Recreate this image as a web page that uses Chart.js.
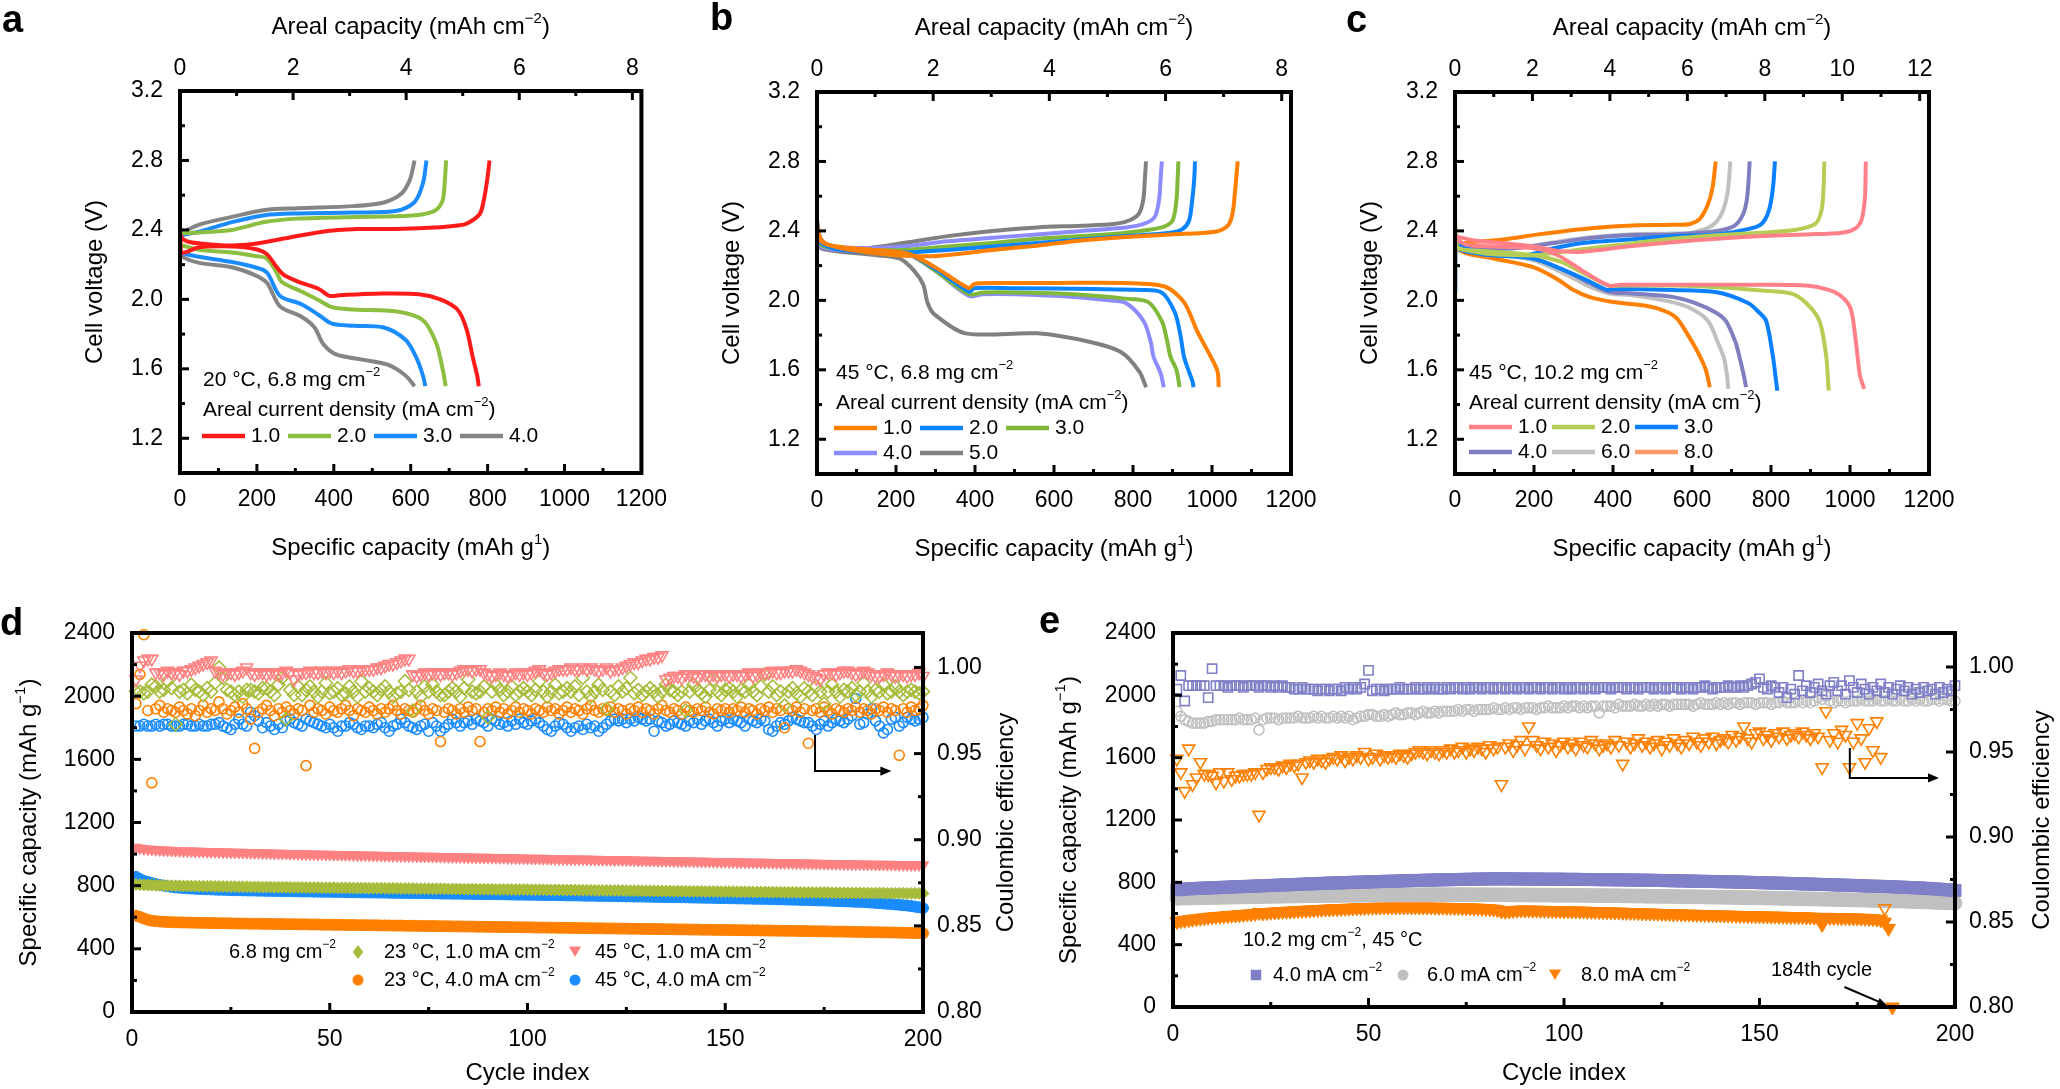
<!DOCTYPE html>
<html>
<head>
<meta charset="utf-8">
<title>Voltage profiles and cycling</title>
<script src="https://cdn.jsdelivr.net/npm/chart.js@4.4.1/dist/chart.umd.min.js"></script>
<style>
  html, body { margin: 0; padding: 0; background: #fff; }
  #fig { position: relative; width: 2060px; height: 1089px; overflow: hidden; background: #fff;
         font-family: 'Liberation Sans', Arial, Helvetica, sans-serif; }
  #fig canvas { position: absolute; }
  .tag { position: absolute; font-weight: bold; font-size: 38px; line-height: 38px; }
</style>
</head>
<body>
<div id="fig">
  <canvas id="chartA" width="680" height="580" style="left:0px;top:0px"></canvas>
  <canvas id="chartB" width="680" height="580" style="left:680px;top:0px"></canvas>
  <canvas id="chartC" width="720" height="580" style="left:1340px;top:0px"></canvas>
  <canvas id="chartD" width="1030" height="489" style="left:0px;top:600px"></canvas>
  <canvas id="chartE" width="1030" height="489" style="left:1030px;top:600px"></canvas>
  <div class="tag" style="left:2px;top:0px">a</div>
  <div class="tag" style="left:710px;top:-2px">b</div>
  <div class="tag" style="left:1346px;top:0px">c</div>
  <div class="tag" style="left:0px;top:603px">d</div>
  <div class="tag" style="left:1039px;top:601px">e</div>
</div>
<script>
// panel a: 20 °C, 6.8 mg cm-2  [specific capacity, voltage]
const aRedChg = [[0,2.15],[1,2.37],[6,2.35],[25,2.33],[60,2.32],[135,2.31],[195,2.32],[270,2.35],[370,2.39],[460,2.405],[564,2.405],[677,2.415],[722,2.425],[745,2.435],[779,2.49],[790,2.57],[799,2.69],[805,2.80]];
const aRedDis = [[0,2.38],[4,2.27],[50,2.30],[135,2.305],[195,2.29],[226,2.26],[250,2.19],[271,2.14],[316,2.095],[361,2.06],[389,2.02],[420,2.025],[508,2.033],[621,2.03],[677,2.00],[722,1.94],[745,1.83],[762,1.66],[773,1.56],[777,1.50]];
const aGreenChg = [[0,2.37],[5,2.38],[50,2.385],[135,2.40],[220,2.445],[305,2.465],[460,2.475],[564,2.478],[632,2.49],[666,2.515],[683,2.57],[688,2.66],[692,2.80]];
const aGreenDis = [[0,2.30],[4,2.31],[50,2.285],[135,2.27],[195,2.25],[226,2.235],[250,2.16],[265,2.10],[316,2.045],[361,1.995],[395,1.955],[450,1.942],[564,1.93],[632,1.88],[666,1.75],[683,1.60],[691,1.50]];
const aBlueChg = [[0,2.36],[5,2.37],[50,2.39],[135,2.445],[220,2.485],[305,2.495],[452,2.50],[564,2.51],[610,2.56],[632,2.67],[641,2.80]];
const aBlueDis = [[0,2.28],[5,2.266],[50,2.245],[135,2.215],[195,2.185],[226,2.155],[260,2.02],[316,1.972],[361,1.91],[395,1.86],[452,1.848],[530,1.838],[587,1.766],[615,1.663],[632,1.56],[638,1.50]];
const aGrayChg = [[0,2.36],[5,2.38],[50,2.43],[135,2.475],[220,2.515],[305,2.525],[452,2.537],[530,2.558],[576,2.609],[598,2.69],[610,2.80]];
const aGrayDis = [[0,2.27],[5,2.246],[50,2.21],[135,2.185],[195,2.14],[226,2.095],[260,1.96],[316,1.90],[350,1.838],[372,1.745],[406,1.683],[474,1.653],[542,1.622],[587,1.56],[610,1.50]];

// panel b: 45 °C, 6.8 mg cm-2
const bOrangeChg = [[0,2.45],[8,2.36],[30,2.32],[100,2.285],[200,2.26],[300,2.255],[444,2.29],[557,2.315],[669,2.345],[782,2.365],[895,2.38],[1008,2.395],[1040,2.43],[1052,2.50],[1058,2.62],[1062,2.72],[1065,2.80]];
const bOrangeDis = [[0,2.42],[10,2.34],[50,2.31],[150,2.29],[230,2.27],[300,2.19],[385,2.07],[398,2.095],[450,2.10],[600,2.10],[780,2.10],[880,2.08],[929,1.99],[963,1.82],[997,1.675],[1014,1.59],[1017,1.50]];
const bBlueChg = [[0,2.46],[10,2.35],[40,2.30],[120,2.28],[218,2.275],[330,2.29],[444,2.31],[557,2.33],[669,2.35],[782,2.37],[895,2.39],[925,2.41],[942,2.46],[950,2.58],[955,2.70],[957,2.80]];
const bBlueDis = [[0,2.40],[10,2.33],[50,2.30],[150,2.285],[230,2.27],[300,2.18],[385,2.05],[398,2.07],[500,2.07],[700,2.065],[820,2.06],[873,2.045],[906,1.93],[920,1.80],[929,1.675],[940,1.60],[951,1.53],[953,1.50]];
const bGreenChg = [[0,2.44],[10,2.34],[40,2.30],[120,2.29],[218,2.29],[330,2.31],[444,2.33],[557,2.355],[669,2.37],[782,2.39],[873,2.42],[900,2.46],[910,2.58],[913,2.70],[915,2.80]];
const bGreenDis = [[0,2.38],[10,2.32],[50,2.30],[150,2.285],[230,2.27],[300,2.17],[385,2.035],[420,2.045],[500,2.045],[650,2.035],[780,2.01],[839,1.99],[873,1.88],[885,1.78],[895,1.675],[910,1.60],[918,1.50]];
const bPurpleChg = [[0,2.43],[10,2.33],[40,2.31],[120,2.30],[218,2.31],[330,2.34],[444,2.36],[557,2.38],[669,2.40],[782,2.42],[827,2.44],[855,2.48],[866,2.58],[870,2.70],[873,2.80]];
const bPurpleDis = [[0,2.36],[10,2.31],[50,2.29],[150,2.28],[230,2.265],[300,2.17],[385,2.025],[420,2.035],[500,2.035],[650,2.02],[740,2.00],[782,1.985],[827,1.88],[845,1.76],[852,1.675],[870,1.58],[878,1.50]];
const bGrayChg = [[0,2.40],[10,2.32],[40,2.30],[120,2.30],[218,2.33],[331,2.37],[444,2.40],[557,2.42],[669,2.43],[750,2.44],[790,2.46],[815,2.50],[826,2.58],[830,2.70],[833,2.80]];
const bGrayDis = [[0,2.34],[10,2.30],[60,2.28],[150,2.26],[210,2.24],[246,2.17],[269,2.09],[280,1.985],[297,1.92],[376,1.81],[557,1.81],[692,1.76],[771,1.70],[816,1.59],[833,1.50]];

// panel c: 45 °C, 10.2 mg cm-2
const cPinkChg = [[0,2.37],[50,2.345],[120,2.33],[200,2.31],[260,2.285],[324,2.28],[437,2.31],[550,2.335],[663,2.355],[776,2.37],[889,2.38],[980,2.39],[1014,2.415],[1030,2.47],[1038,2.60],[1040,2.80]];
const cPinkDis = [[0,2.36],[30,2.32],[100,2.31],[200,2.30],[260,2.26],[330,2.16],[390,2.085],[420,2.09],[550,2.09],[776,2.09],[889,2.085],[946,2.06],[980,2.02],[1002,1.95],[1014,1.78],[1025,1.57],[1036,1.49]];
const cLimeChg = [[0,1.62],[1,2.44],[5,2.31],[50,2.28],[98,2.265],[200,2.26],[324,2.295],[437,2.325],[550,2.355],[663,2.375],[776,2.39],[860,2.405],[912,2.44],[928,2.52],[933,2.65],[935,2.80]];
const cLimeDis = [[0,2.30],[30,2.29],[100,2.28],[200,2.26],[270,2.22],[330,2.15],[390,2.085],[420,2.085],[550,2.085],[663,2.075],[776,2.057],[850,2.04],[889,1.985],[923,1.88],[940,1.675],[944,1.55],[946,1.48]];
const cBlueChg = [[1,2.05],[2,2.30],[19,2.31],[60,2.27],[98,2.26],[180,2.26],[250,2.30],[324,2.33],[437,2.35],[550,2.37],[663,2.38],[742,2.41],[776,2.44],[795,2.52],[805,2.65],[810,2.80]];
const cBlueDis = [[0,2.30],[30,2.28],[100,2.26],[200,2.24],[270,2.18],[330,2.12],[385,2.06],[400,2.065],[550,2.06],[663,2.047],[742,1.985],[770,1.93],[788,1.88],[805,1.675],[812,1.55],[816,1.48]];
const cSlateChg = [[0,2.40],[10,2.31],[60,2.30],[150,2.30],[250,2.33],[350,2.36],[437,2.375],[550,2.38],[663,2.40],[708,2.43],[730,2.50],[740,2.60],[746,2.80]];
const cSlateDis = [[0,2.32],[30,2.30],[100,2.28],[200,2.24],[280,2.17],[340,2.10],[390,2.05],[450,2.04],[550,2.02],[607,1.985],[660,1.93],[686,1.88],[710,1.76],[720,1.675],[730,1.58],[737,1.50]];
const cSilverChg = [[0,2.38],[10,2.31],[60,2.30],[150,2.30],[250,2.335],[350,2.365],[437,2.38],[550,2.385],[600,2.39],[650,2.43],[675,2.50],[690,2.62],[697,2.80]];
const cSilverDis = [[0,2.32],[30,2.29],[100,2.27],[200,2.23],[280,2.15],[340,2.08],[390,2.04],[450,2.03],[550,1.99],[600,1.95],[641,1.88],[665,1.76],[680,1.675],[688,1.58],[692,1.49]];
const cOrangeChg = [[0,2.36],[10,2.33],[42,2.335],[120,2.35],[211,2.38],[320,2.41],[437,2.43],[550,2.435],[595,2.44],[620,2.47],[640,2.55],[652,2.65],[660,2.80]];
const cOrangeDis = [[0,2.30],[30,2.27],[100,2.24],[200,2.19],[260,2.12],[300,2.06],[340,2.02],[400,1.99],[480,1.97],[530,1.94],[560,1.90],[590,1.80],[615,1.70],[635,1.60],[645,1.50]];

// cycling: cycle index is the category axis
const cycleIdx = Array.from({ length: 200 }, (_, i) => i + 1);

// panel d, specific capacity (mAh g-1)
const dPinkCap = [
1042,1037,1033,1031,1029,1027,1026,1024,1023,1022, 1021,1020,1019,1019,1018,1017,1016,1016,1015,1014,
1014,1013,1012,1012,1011,1010,1010,1009,1009,1008, 1007,1007,1006,1006,1005,1004,1004,1003,1003,1002,
1002,1001,1000,1000,999,999,998,998,997,997, 996,996,995,995,994,994,993,993,992,992,
991,991,990,990,989,989,988,988,987,987, 986,986,985,985,985,984,984,983,983,982,
982,981,981,980,980,979,979,978,978,978, 977,977,976,976,975,975,974,974,973,973,
972,972,972,971,971,970,970,969,969,968, 968,967,967,967,966,966,965,965,964,964,
963,963,963,962,962,961,961,960,960,959, 959,959,958,958,957,957,956,956,955,955,
955,954,954,953,953,952,952,951,951,951, 950,950,949,949,948,948,947,947,947,946,
946,945,945,944,944,943,943,943,942,942, 941,941,940,940,939,939,939,938,938,937,
937,936,936,936,935,935,935,934,934,934, 933,933,933,932,932,932,931,931,931,930];
const dGreenCap = [
808,806,805,804,803,802,802,801,800,800, 799,799,798,798,798,797,797,796,796,796,
795,795,795,794,794,794,793,793,793,792, 792,792,791,791,791,790,790,790,790,789,
789,789,789,788,788,788,788,787,787,787, 787,786,786,786,786,785,785,785,785,784,
784,784,784,783,783,783,783,782,782,782, 782,781,781,781,781,780,780,780,780,779,
779,779,779,778,778,778,778,777,777,777, 777,776,776,776,776,775,775,775,775,775,
774,774,774,774,773,773,773,773,772,772, 772,772,771,771,771,771,770,770,770,770,
769,769,769,769,768,768,768,768,767,767, 767,767,766,766,766,766,765,765,765,765,
764,764,764,764,763,763,763,763,762,762, 762,762,761,761,761,761,760,760,760,760,
759,759,759,759,758,758,758,758,757,757, 757,757,756,756,756,756,755,755,755,755,
754,754,754,754,754,753,753,753,753,753, 752,752,752,752,752,751,751,751,751,751];
const dBlueCap = [
856,842,831,823,816,810,805,800,796,792, 789,787,785,783,782,780,779,778,777,776,
775,774,774,773,772,771,771,770,770,769, 769,768,768,767,767,766,766,765,765,765,
764,764,763,763,763,762,762,761,761,761, 760,760,760,759,759,758,758,758,757,757,
757,756,756,756,755,755,754,754,754,753, 753,753,752,752,752,751,751,750,750,750,
749,749,749,748,748,748,747,747,746,746, 746,745,745,745,744,744,743,743,743,742,
742,742,741,741,740,740,740,739,739,738, 738,738,737,737,736,736,736,735,735,734,
734,734,733,733,732,732,731,731,731,730, 730,729,729,728,728,727,727,727,726,726,
725,725,724,724,723,723,722,722,721,721, 720,720,719,719,718,718,717,717,716,716,
715,714,714,713,713,712,711,711,710,709, 709,708,707,706,706,705,704,703,702,701,
700,699,698,697,696,694,693,691,689,687, 685,683,681,679,676,674,671,667,663,658];
const dOrangeCap = [
610,602,592,584,578,575,573,571,570,569, 568,567,567,566,566,565,565,564,564,563,
563,562,562,562,561,561,560,560,560,559, 559,559,558,558,558,557,557,557,556,556,
556,555,555,555,554,554,554,553,553,553, 552,552,552,551,551,551,550,550,550,549,
549,549,548,548,548,547,547,547,546,546, 546,545,545,545,544,544,544,543,543,543,
542,542,542,541,541,541,540,540,540,539, 539,539,538,538,538,537,537,537,536,536,
536,535,535,535,534,534,534,533,533,533, 532,532,532,531,531,531,530,530,530,529,
529,529,528,528,528,527,527,527,526,526, 526,525,525,525,524,524,524,523,523,523,
522,522,522,521,521,521,520,520,520,519, 519,519,518,518,518,517,517,517,516,516,
516,515,515,515,514,514,514,513,513,513, 512,512,511,511,511,510,510,509,509,509,
508,508,507,507,506,506,506,505,505,504, 504,503,503,502,502,501,501,500,500,499];

// panel d, coulombic efficiency
const dPinkCE = [
.993,1.001,1.004,1.005,1.005,.997,.997,.996,.998,.997, .997,.996,.998,.998,.999,1.000,1.001,1.002,1.003,1.004,
.998,.997,.996,.997,.997,.996,.997,.998,1.000,.997, .996,.997,.997,.996,.997,.997,.996,.997,.998,.997,
.993,.996,.997,.997,.998,.997,.997,.998,.997,.998, .997,.998,.997,.998,.999,.998,.998,.999,.999,.999,
.999,1.000,1.000,1.001,1.002,1.002,1.003,1.004,1.005,1.005, .996,.995,.996,.997,.996,.997,.997,.996,.997,.997,
.996,.997,.998,.999,.999,.998,.999,.999,.997,.996, .995,.996,.997,.996,.995,.996,.997,.996,.997,.996,
.997,.998,.999,.997,.996,.997,.998,.999,.999,.999, 1.000,.999,.999,1.000,.999,1.000,.999,.998,.999,1.000,
.998,.999,.999,1.000,1.001,1.002,1.003,1.003,1.004,1.005, 1.005,1.006,1.006,1.007,.993,.994,.995,.995,.994,.996,
.996,.995,.994,.996,.996,.995,.996,.995,.996,.996, .995,.996,.996,.995,.996,.997,.995,.996,.997,.997,
.997,.998,.997,.997,.998,.998,.998,.999,.998,.997, .996,.995,.994,.993,.996,.997,.997,.996,.997,.998,
.998,.997,.996,.997,.998,.997,.996,.995,.995,.996, .997,.996,.995,.996,.996,.995,.996,.996,.997,.995];
const dGreenCE = [
.986,.986,.985,.986,.990,.989,.986,.987,.992,.988, .967,.986,.987,.985,.990,.987,.986,.984,.988,.986,
.991,1.000,.994,.987,.986,.984,.986,.983,.987,.987, .986,.985,.988,.988,.986,.984,.990,.994,.970,.987,
.984,.989,.984,.987,.989,.986,.983,.986,.991,.985, .986,.988,.984,.985,.989,.986,.983,.992,.986,.988,
.986,.984,.987,.989,.986,.983,.985,.986,.992,.987, .975,.986,.983,.989,.986,.990,.986,.984,.984,.986,
.988,.986,.983,.988,.993,.986,.985,.986,.989,.971, .986,.990,.987,.984,.986,.989,.984,.986,.988,.986,
.984,.987,.992,.986,.983,.986,.990,.985,.986,.988, .986,.989,.984,.994,.986,.983,.986,.990,.987,.976,
.986,.984,.989,.986,.988,.994,.985,.987,.984,.986, .988,.986,.983,.986,.990,.987,.986,.984,.986,.975,
.986,.990,.987,.985,.983,.987,.993,.986,.984,.987, .988,.986,.983,.987,.986,.990,.986,.984,.989,.996,
.986,.989,.984,.986,.978,.986,.988,.985,.983,.988, .986,.984,.989,.986,.979,.986,.990,.986,.983,.987,
.986,.988,.984,.986,.991,.986,.983,.987,.986,.990, .985,.986,.989,.986,.984,.986,.987,.986,.985,.986];
const dOrangeCE = [
.979,.996,1.019,.975,.933,.976,.978,.974,.976,.975, .974,.977,.975,.973,.976,.972,.975,.978,.974,.976,
.975,.980,.976,.973,.975,.977,.974,.979,.976,.970, .953,.974,.976,.978,.975,.972,.976,.974,.977,.975,
.973,.976,.975,.943,.978,.974,.976,.975,.973,.977, .975,.974,.976,.978,.975,.972,.976,.975,.974,.977,
.975,.973,.976,.974,.976,.978,.975,.973,.976,.975, .974,.976,.978,.975,.973,.976,.975,.957,.974,.976,
.975,.973,.976,.974,.977,.975,.976,.957,.974,.976, .975,.977,.974,.976,.973,.975,.977,.974,.976,.975,
.973,.976,.975,.974,.977,.975,.976,.973,.975,.977, .974,.976,.975,.973,.976,.978,.975,.974,.976,.975,
.977,.974,.976,.975,.973,.976,.975,.977,.974,.976, .975,.973,.976,.978,.975,.974,.976,.975,.973,.977,
.975,.974,.976,.975,.977,.974,.973,.976,.975,.976, .974,.976,.975,.977,.974,.976,.975,.973,.976,.975,
.977,.974,.976,.975,.965,.976,.975,.977,.974,.976, .956,.975,.976,.974,.977,.975,.973,.976,.975,.974,
.976,.975,.977,.974,.976,.975,.973,.976,.975,.977, .974,.976,.975,.949,.976,.974,.977,.975,.976,.978];
const dBlueCE = [
.966,.966,.967,.966,.966,.967,.966,.967,.967,.966, .966,.966,.967,.967,.966,.966,.967,.966,.966,.967,
.967,.968,.966,.965,.964,.967,.970,.967,.966,.974, .972,.969,.965,.968,.966,.964,.967,.965,.969,.970,
.968,.967,.966,.970,.969,.968,.967,.966,.965,.967, .965,.963,.966,.966,.968,.967,.965,.964,.966,.966,
.965,.967,.968,.965,.963,.966,.967,.970,.968,.966, .965,.964,.966,.967,.963,.968,.966,.963,.965,.967,
.970,.968,.966,.968,.969,.967,.970,.969,.968,.966, .970,.969,.967,.968,.966,.969,.967,.970,.968,.967,
.969,.970,.968,.966,.964,.963,.966,.968,.967,.965, .963,.965,.966,.964,.967,.965,.966,.963,.965,.967,
.969,.970,.969,.970,.968,.970,.969,.971,.970,.969, .970,.963,.969,.968,.966,.967,.969,.968,.967,.966,
.969,.968,.970,.967,.969,.970,.968,.966,.969,.970, .968,.970,.969,.968,.966,.970,.969,.968,.970,.969,
.964,.963,.966,.968,.967,.969,.971,.970,.969,.968, .968,.966,.964,.967,.969,.966,.968,.970,.969,.968,
.970,.972,.982,.967,.968,.973,.976,.969,.966,.962, .964,.970,.971,.966,.968,.971,.970,.969,.970,.971];

// panel e, specific capacity (mAh g-1); 8.0 mA cm-2 fails at the 184th cycle
const ePurpleCap = [
752,755,757,758,760,761,762,763,764,765, 766,767,768,769,770,771,772,773,774,775,
776,777,778,779,780,781,782,783,784,785, 786,787,788,789,790,791,792,793,794,795,
796,797,797,798,799,800,801,801,802,803, 804,804,805,806,807,807,808,809,810,810,
811,812,812,813,814,814,815,816,816,817, 817,818,818,819,819,820,820,821,821,822,
822,822,822,822,822,822,822,822,821,821, 821,821,821,821,820,820,820,820,820,820,
819,819,819,819,818,818,818,818,817,817, 817,817,816,816,816,815,815,815,814,814,
814,813,813,812,812,811,811,810,810,809, 809,808,808,807,807,806,806,805,805,804,
804,803,803,802,801,801,800,799,799,798, 797,797,796,795,795,794,793,792,792,791,
790,789,789,788,787,786,786,785,784,783, 782,782,781,780,779,778,777,776,775,775,
774,773,772,771,770,769,768,767,766,765, 764,762,761,759,758,756,754,752,750,748];
const eGrayCap = [
698,699,699,700,700,701,701,702,702,703, 703,704,704,705,705,706,706,707,707,708,
708,709,709,710,710,710,711,711,712,712, 712,713,713,713,714,714,714,715,715,715,
716,716,716,717,717,717,717,718,718,718, 718,719,719,719,719,719,720,720,720,720,
720,720,720,721,721,721,721,721,721,721, 721,721,721,721,721,721,720,720,720,720,
720,720,720,720,720,719,719,719,719,719, 719,719,718,718,718,718,718,717,717,717,
717,717,716,716,716,716,715,715,715,715, 714,714,714,714,713,713,713,712,712,712,
711,711,711,710,710,710,709,709,709,708, 708,708,707,707,707,706,706,705,705,705,
704,704,703,703,702,702,702,701,701,700, 700,699,699,698,698,697,697,696,696,695,
695,694,694,693,693,692,692,691,690,690, 689,689,688,687,687,686,686,685,684,684,
683,682,682,681,680,680,679,678,677,676, 675,675,674,673,672,671,670,669,668,667];
const eOrangeCap = [
548,553,556,560,563,566,569,572,575,578, 580,582,584,586,588,590,592,594,596,598,
600,606,604,606,608,610,611,613,614,615, 617,618,620,621,622,624,625,626,628,629,
630,631,632,633,634,635,636,637,638,639, 640,640,641,641,641,642,642,642,642,642,
642,642,641,641,641,641,640,640,640,639, 639,638,638,637,636,636,635,634,633,632,
630,628,624,616,614,616,619,621,622,622, 622,621,621,620,620,619,619,618,618,617,
617,616,616,615,615,614,613,613,612,611, 611,610,609,609,608,607,606,606,605,604,
603,603,602,601,600,600,599,598,598,597, 596,596,595,594,594,593,592,592,591,590,
590,589,589,588,587,587,586,586,585,585, 584,584,583,583,582,582,581,581,580,580,
579,578,577,576,572,530,575,575,574,574, 573,573,572,571,571,570,569,568,566,564,
560,545,505,0];

// panel e, coulombic efficiency
const ePurpleCE = [
.987,.995,.980,.989,.989,.989,.989,.989,.982,.999, .989,.989,.989,.988,.989,.989,.989,.988,.989,.989,
.989,.988,.989,.989,.988,.989,.988,.989,.988,.988, .987,.987,.988,.987,.987,.987,.986,.987,.987,.986,
.987,.987,.986,.988,.987,.988,.987,.988,.990,.998, .986,.987,.987,.986,.987,.987,.987,.988,.987,.987,
.987,.988,.987,.987,.988,.987,.988,.987,.987,.988, .987,.988,.988,.987,.988,.987,.988,.988,.987,.988,
.988,.987,.988,.988,.987,.988,.988,.987,.988,.988, .987,.988,.988,.987,.988,.988,.987,.988,.988,.987,
.988,.987,.988,.988,.987,.988,.988,.987,.988,.988, .988,.987,.988,.988,.988,.987,.988,.988,.987,.988,
.988,.988,.987,.988,.988,.987,.988,.988,.988,.987, .988,.988,.987,.988,.988,.989,.988,.987,.988,.988,
.988,.989,.988,.988,.989,.988,.989,.990,.991,.993, .988,.987,.989,.988,.985,.988,.982,.987,.984,.995,
.986,.989,.985,.988,.990,.986,.984,.989,.991,.986, .989,.984,.992,.988,.985,.990,.987,.984,.988,.986,
.990,.985,.988,.984,.987,.989,.986,.988,.984,.987, .985,.988,.986,.987,.984,.988,.985,.987,.986,.989];
const eGrayCE = [
.974,.971,.969,.968,.967,.967,.967,.967,.968,.968, .969,.969,.969,.969,.969,.969,.970,.969,.969,.969,
.970,.963,.969,.970,.970,.970,.969,.970,.970,.970, .970,.971,.970,.970,.970,.971,.970,.971,.970,.970,
.971,.970,.971,.970,.971,.969,.970,.971,.971,.972, .972,.971,.971,.972,.971,.972,.973,.972,.972,.973,
.973,.972,.973,.974,.973,.973,.974,.973,.974,.974, .974,.974,.975,.974,.975,.975,.974,.975,.975,.975,
.975,.976,.975,.975,.976,.975,.976,.976,.975,.976, .976,.976,.975,.976,.976,.977,.976,.976,.976,.977,
.976,.977,.977,.976,.977,.976,.977,.977,.973,.977, .977,.977,.976,.978,.977,.977,.977,.978,.977,.977,
.978,.977,.978,.977,.978,.978,.977,.978,.978,.978, .978,.978,.977,.978,.979,.978,.978,.978,.979,.978,
.979,.978,.979,.979,.978,.979,.979,.979,.978,.979, .979,.979,.978,.979,.979,.980,.979,.979,.979,.980,
.979,.980,.979,.980,.982,.981,.983,.980,.979,.980, .980,.979,.980,.980,.980,.981,.980,.980,.980,.981,
.980,.980,.981,.980,.980,.981,.980,.980,.981,.980, .981,.980,.980,.981,.981,.980,.981,.981,.980,.980];
const eOrangeCE = [
.946,.938,.927,.952,.931,.935,.944,.937,.937,.936, .932,.938,.933,.938,.934,.936,.936,.937,.937,.937,
.938,.913,.938,.940,.941,.941,.940,.942,.941,.943, .942,.943,.935,.944,.945,.944,.946,.945,.944,.946,
.947,.946,.948,.945,.947,.946,.948,.947,.950,.946, .947,.949,.946,.948,.947,.948,.947,.949,.948,.947,
.949,.950,.951,.950,.949,.951,.950,.949,.951,.950, .952,.950,.951,.953,.950,.952,.951,.953,.952,.950,
.954,.952,.953,.931,.953,.955,.951,.954,.957,.952, .965,.957,.954,.952,.956,.953,.955,.951,.954,.956,
.953,.955,.952,.956,.954,.953,.957,.955,.952,.954, .955,.953,.957,.954,.943,.956,.953,.955,.958,.954,
.956,.953,.955,.957,.952,.956,.954,.958,.955,.953, .957,.955,.959,.956,.954,.958,.956,.959,.955,.957,
.958,.956,.960,.957,.959,.965,.958,.956,.961,.962, .958,.960,.957,.961,.959,.962,.958,.960,.961,.959,
.962,.960,.958,.961,.959,.941,.974,.957,.961,.956, .963,.960,.941,.956,.967,.958,.944,.964,.951,.968,
.947,.858];

Chart.defaults.font.family = "'Liberation Sans', Arial, Helvetica, sans-serif";
Chart.defaults.color = '#000';
Chart.defaults.animation = false;
Chart.defaults.plugins.legend.display = false;
Chart.defaults.plugins.tooltip.enabled = false;

const FAM = Chart.defaults.font.family;

// text with ^{...} superscripts, vertically centred on y
function rich(ctx, str, x, y, size, align, rot) {
  const parts = str.split(/(\^\{[^}]*\})/).filter(s => s).map(s =>
    s.startsWith('^{') ? { t: s.slice(2, -1), sup: true } : { t: s, sup: false });
  const fontOf = p => (p.sup ? Math.round(size * 0.62) : size) + 'px ' + FAM;
  let w = 0;
  parts.forEach(p => { ctx.font = fontOf(p); p.w = ctx.measureText(p.t).width; w += p.w; });
  ctx.save();
  ctx.translate(x, y);
  if (rot) ctx.rotate(rot);
  ctx.fillStyle = '#000';
  ctx.textBaseline = 'middle';
  ctx.textAlign = 'left';
  let cx = align === 'center' ? -w / 2 : 0;
  parts.forEach(p => {
    ctx.font = fontOf(p);
    ctx.fillText(p.t, cx, p.sup ? -size * 0.36 : 0);
    cx += p.w;
  });
  ctx.restore();
}

function marker(ctx, style, x, y, r, color) {
  ctx.save();
  ctx.fillStyle = color;
  ctx.beginPath();
  if (style === 'circle') ctx.arc(x, y, r, 0, Math.PI * 2);
  if (style === 'rect') ctx.rect(x - r * 0.75, y - r * 0.75, r * 1.5, r * 1.5);
  if (style === 'rectRot') { ctx.moveTo(x, y - r); ctx.lineTo(x + r * 0.75, y); ctx.lineTo(x, y + r); ctx.lineTo(x - r * 0.75, y); }
  if (style === 'triDown') { ctx.moveTo(x - r * 0.87, y - r * 0.5); ctx.lineTo(x + r * 0.87, y - r * 0.5); ctx.lineTo(x, y + r); }
  ctx.closePath();
  ctx.fill();
  ctx.restore();
}

function arrow(ctx, pts, head) {
  ctx.save();
  ctx.strokeStyle = '#000';
  ctx.fillStyle = '#000';
  ctx.lineWidth = 2;
  const [x1, y1] = pts[pts.length - 2], [x2, y2] = pts[pts.length - 1];
  const ang = Math.atan2(y2 - y1, x2 - x1);
  ctx.beginPath();
  ctx.moveTo(pts[0][0], pts[0][1]);
  pts.slice(1, -1).forEach(p => ctx.lineTo(p[0], p[1]));
  ctx.lineTo(x2 - head * 0.8 * Math.cos(ang), y2 - head * 0.8 * Math.sin(ang));
  ctx.stroke();
  const bx = x2 - head * Math.cos(ang), by = y2 - head * Math.sin(ang);
  const nx = -Math.sin(ang) * head * 0.42, ny = Math.cos(ang) * head * 0.42;
  ctx.beginPath();
  ctx.moveTo(x2, y2);
  ctx.lineTo(bx + nx, by + ny);
  ctx.lineTo(bx - nx, by - ny);
  ctx.closePath();
  ctx.fill();
  ctx.restore();
}

// box border plus inward tick marks
function frame(marks) {
  return {
    id: 'frame',
    afterDatasetsDraw(chart) {
      const { ctx, chartArea: a, scales } = chart;
      ctx.save();
      ctx.strokeStyle = '#000';
      ctx.lineWidth = 3;
      marks.forEach(m => {
        const s = scales[m.axis];
        const n = Math.floor((s.max - s.min) / m.step + 1e-6);
        for (let k = 0; k <= n; k++) {
          const v = s.min + k * m.step;
          const r = v / m.major;
          const len = Math.abs(r - Math.round(r)) < 1e-6 ? 9 : 5;
          const p = s.getPixelForValue(v);
          ctx.beginPath();
          if (m.edge === 'left') { ctx.moveTo(a.left, p); ctx.lineTo(a.left + len, p); }
          if (m.edge === 'right') { ctx.moveTo(a.right, p); ctx.lineTo(a.right - len, p); }
          if (m.edge === 'top') { ctx.moveTo(p, a.top); ctx.lineTo(p, a.top + len); }
          if (m.edge === 'bottom') { ctx.moveTo(p, a.bottom); ctx.lineTo(p, a.bottom - len); }
          ctx.stroke();
        }
      });
      ctx.lineWidth = 4;
      ctx.strokeRect(a.left, a.top, a.right - a.left, a.bottom - a.top);
      ctx.restore();
    }
  };
}

function axis(pos, min, max, step, pad, size, fmt) {
  return {
    type: 'linear', position: pos, min: min, max: max,
    grid: { display: false, drawTicks: false },
    border: { display: false },
    ticks: { stepSize: step, padding: pad, includeBounds: false, autoSkip: false, maxRotation: 0,
             font: { size: 23 }, callback: fmt },
    afterFit: s => { if (pos === 'left' || pos === 'right') s.width = size; else s.height = size; }
  };
}

// voltage profiles (a, b, c)
function profilePanel(id, curves, box, arealMax, leg) {
  const datasets = [];
  curves.forEach(c => {
    [c.chg, c.dis].forEach(pts => datasets.push({
      data: pts.map(p => ({ x: p[0], y: p[1] })),
      xAxisID: 'x', yAxisID: 'y',
      showLine: true, borderColor: c.color, borderWidth: 4,
      pointRadius: 0, tension: 0.3
    }));
  });
  const deco = {
    id: 'deco',
    afterDraw(chart) {
      const { ctx, chartArea: a } = chart;
      const cx = (a.left + a.right) / 2, cy = (a.top + a.bottom) / 2;
      rich(ctx, 'Areal capacity (mAh cm^{\u22122})', cx, a.top - 64, 24, 'center');
      rich(ctx, 'Specific capacity (mAh g^{1})', cx, a.bottom + 75, 24, 'center');
      rich(ctx, 'Cell voltage (V)', a.left - 85, cy, 24, 'center', -Math.PI / 2);
      rich(ctx, leg.note, leg.x, leg.y, 21, 'left');
      rich(ctx, 'Areal current density (mA cm^{\u22122})', leg.x, leg.y + 30, 21, 'left');
      curves.forEach((c, i) => {
        const col = i % leg.perRow, row = Math.floor(i / leg.perRow);
        const lx = leg.lineX + col * leg.step, ly = leg.rowY + row * 25;
        ctx.save();
        ctx.strokeStyle = c.legendColor || c.color;
        ctx.lineWidth = 4.5;
        ctx.beginPath(); ctx.moveTo(lx, ly); ctx.lineTo(lx + 43, ly); ctx.stroke();
        ctx.restore();
        rich(ctx, c.label, lx + 49, ly, 21, 'left');
      });
    }
  };
  new Chart(document.getElementById(id), {
    type: 'scatter',
    data: { datasets: datasets },
    options: {
      responsive: false, devicePixelRatio: 1, events: [],
      layout: { autoPadding: false, padding: { right: box.right } },
      scales: {
        x: axis('bottom', 0, 1200, 200, 13, box.bottom, v => v),
        x2: axis('top', 0, arealMax, 2, 9, box.top, v => v),
        y: axis('left', 1.0, 3.2, 0.4, 17, box.left, v => v.toFixed(1))
      }
    },
    plugins: [frame([
      { axis: 'y', edge: 'left', step: 0.2, major: 0.4 },
      { axis: 'x', edge: 'bottom', step: 100, major: 200 },
      { axis: 'x2', edge: 'top', step: 1, major: 2 }
    ]), deco]
  });
}

profilePanel('chartA', [
  { label: '1.0', color: '#ff1a1a', chg: aRedChg, dis: aRedDis },
  { label: '2.0', color: '#8cbf3f', chg: aGreenChg, dis: aGreenDis },
  { label: '3.0', color: '#1a8cff', chg: aBlueChg, dis: aBlueDis },
  { label: '4.0', color: '#858585', chg: aGrayChg, dis: aGrayDis }
], { left: 180, right: 27, top: 91, bottom: 107 }, 8.16,
  { note: '20 \u00b0C, 6.8 mg cm^{\u22122}', x: 203, y: 380, lineX: 202, rowY: 436, step: 86, perRow: 4 });

profilePanel('chartB', [
  { label: '1.0', color: '#ff8000', chg: bOrangeChg, dis: bOrangeDis },
  { label: '2.0', color: '#0a84ff', chg: bBlueChg, dis: bBlueDis },
  { label: '3.0', color: '#80b83a', chg: bGreenChg, dis: bGreenDis },
  { label: '4.0', color: '#8c8cff', chg: bPurpleChg, dis: bPurpleDis },
  { label: '5.0', color: '#808080', chg: bGrayChg, dis: bGrayDis }
], { left: 137, right: 69, top: 92, bottom: 106 }, 8.16,
  { note: '45 \u00b0C, 6.8 mg cm^{\u22122}', x: 156, y: 373, lineX: 154, rowY: 428, step: 86, perRow: 3 });

profilePanel('chartC', [
  { label: '1.0', color: '#ff8088', chg: cPinkChg, dis: cPinkDis },
  { label: '2.0', color: '#b5cc55', chg: cLimeChg, dis: cLimeDis },
  { label: '3.0', color: '#0a80ff', chg: cBlueChg, dis: cBlueDis },
  { label: '4.0', color: '#7f7fc0', chg: cSlateChg, dis: cSlateDis },
  { label: '6.0', color: '#c0c0c0', chg: cSilverChg, dis: cSilverDis },
  { label: '8.0', color: '#ff8000', legendColor: '#ff9966', chg: cOrangeChg, dis: cOrangeDis }
], { left: 115, right: 131, top: 92, bottom: 106 }, 12.24,
  { note: '45 \u00b0C, 10.2 mg cm^{\u22122}', x: 129, y: 373, lineX: 129, rowY: 427, step: 83, perRow: 3 });

// cycling panels (d, e)
function capSet(vals, color, style, r, rot) {
  return {
    data: vals.map((v, i) => ({ x: cycleIdx[i], y: v })), xAxisID: 'x', yAxisID: 'y',
    pointStyle: style, pointRotation: rot || 0, pointRadius: r,
    backgroundColor: color, borderColor: color, pointBackgroundColor: color, pointBorderColor: color,
    pointBorderWidth: 1, clip: false
  };
}
function ceSet(vals, color, style, r, rot) {
  return {
    data: vals.map((v, i) => ({ x: cycleIdx[i], y: v })), xAxisID: 'x', yAxisID: 'y2',
    pointStyle: style, pointRotation: rot || 0, pointRadius: r,
    backgroundColor: 'rgba(0,0,0,0)', borderColor: color, pointBackgroundColor: 'rgba(0,0,0,0)',
    pointBorderColor: color, pointBorderWidth: 1.6, clip: false
  };
}

function cyclePanel(id, sets, box, titleX, drawExtra) {
  const deco = {
    id: 'deco',
    afterDraw(chart) {
      const { ctx, chartArea: a } = chart;
      const cx = (a.left + a.right) / 2, cy = (a.top + a.bottom) / 2;
      rich(ctx, 'Specific capacity (mAh g^{\u22121})', titleX[0], cy, 24, 'center', -Math.PI / 2);
      rich(ctx, 'Coulombic efficiency', titleX[1], cy, 24, 'center', -Math.PI / 2);
      rich(ctx, 'Cycle index', cx, 473, 24, 'center');
      drawExtra(chart);
    }
  };
  new Chart(document.getElementById(id), {
    type: 'scatter',
    data: { datasets: sets },
    options: {
      responsive: false, devicePixelRatio: 1, events: [],
      layout: { autoPadding: false, padding: { top: box.top } },
      scales: {
        x: axis('bottom', 0, 200, 50, 14, box.bottom, v => v),
        y: axis('left', 0, 2400, 400, 17, box.left, v => v),
        y2: axis('right', 0.8, 1.02, 0.05, 14, box.right, v => v.toFixed(2))
      }
    },
    plugins: [frame([
      { axis: 'y', edge: 'left', step: 200, major: 400 },
      { axis: 'x', edge: 'bottom', step: 25, major: 50 },
      { axis: 'y2', edge: 'right', step: 0.025, major: 0.05 }
    ]), deco]
  });
}

const dColors = { pink: '#ff8080', green: '#a8bc3c', orange: '#ff8000', blue: '#1a8cff' };
cyclePanel('chartD', [
  ceSet(dPinkCE, dColors.pink, 'triangle', 7, 180),
  ceSet(dGreenCE, dColors.green, 'rectRot', 6.5),
  ceSet(dOrangeCE, dColors.orange, 'circle', 5),
  ceSet(dBlueCE, dColors.blue, 'circle', 5),
  capSet(dPinkCap, dColors.pink, 'triangle', 6.5, 180),
  capSet(dGreenCap, dColors.green, 'rectRot', 6),
  capSet(dBlueCap, dColors.blue, 'circle', 5.5),
  capSet(dOrangeCap, dColors.orange, 'circle', 5.5)
], { left: 132, right: 107, top: 33, bottom: 77 }, [29, 1006], chart => {
  const { ctx, scales } = chart;
  rich(ctx, '6.8 mg cm^{\u22122}', 229, 352, 20, 'left');
  marker(ctx, 'rectRot', 358, 352, 7, dColors.green);
  rich(ctx, '23 \u00b0C, 1.0 mA cm^{\u22122}', 384, 352, 20, 'left');
  marker(ctx, 'triDown', 575, 350, 7, dColors.pink);
  rich(ctx, '45 \u00b0C, 1.0 mA cm^{\u22122}', 595, 352, 20, 'left');
  marker(ctx, 'circle', 358, 380, 5.5, dColors.orange);
  rich(ctx, '23 \u00b0C, 4.0 mA cm^{\u22122}', 384, 380, 20, 'left');
  marker(ctx, 'circle', 575, 380, 5.5, dColors.blue);
  rich(ctx, '45 \u00b0C, 4.0 mA cm^{\u22122}', 595, 380, 20, 'left');
  const bx = scales.x.getPixelForValue(172.7), ex = scales.x.getPixelForValue(192);
  const by = scales.y.getPixelForValue(1754), ey = scales.y.getPixelForValue(1526);
  arrow(ctx, [[bx, by], [bx, ey], [ex, ey]], 11);
});

const eColors = { purple: '#8080c8', gray: '#c0c0c0', orange: '#ff8000' };
cyclePanel('chartE', [
  ceSet(ePurpleCE, eColors.purple, 'rect', 6.5),
  ceSet(eGrayCE, eColors.gray, 'circle', 5),
  ceSet(eOrangeCE, eColors.orange, 'triangle', 7, 180),
  capSet(ePurpleCap, eColors.purple, 'rect', 8.5),
  capSet(eGrayCap, eColors.gray, 'circle', 7),
  capSet(eOrangeCap, eColors.orange, 'triangle', 8, 180)
], { left: 143, right: 105, top: 33, bottom: 82 }, [39, 1012], chart => {
  const { ctx, scales } = chart;
  rich(ctx, '10.2 mg cm^{\u22122}, 45 \u00b0C', 213, 340, 20, 'left');
  marker(ctx, 'rect', 226, 375, 7, eColors.purple);
  rich(ctx, '4.0 mA cm^{\u22122}', 243, 375, 20, 'left');
  marker(ctx, 'circle', 373, 375, 5.5, eColors.gray);
  rich(ctx, '6.0 mA cm^{\u22122}', 397, 375, 20, 'left');
  marker(ctx, 'triDown', 525, 373, 7, eColors.orange);
  rich(ctx, '8.0 mA cm^{\u22122}', 551, 375, 20, 'left');
  rich(ctx, '184th cycle', 741, 370, 20, 'left');
  const px = scales.x.getPixelForValue(184), py = scales.y.getPixelForValue(0);
  arrow(ctx, [[px - 48, py - 20], [px - 6, py - 2]], 9);
  const bx = scales.x.getPixelForValue(173.1), ex = scales.x.getPixelForValue(195.9);
  const by = scales.y.getPixelForValue(1662), ey = scales.y.getPixelForValue(1470);
  arrow(ctx, [[bx, by], [bx, ey], [ex, ey]], 11);
});
</script>
</body>
</html>
